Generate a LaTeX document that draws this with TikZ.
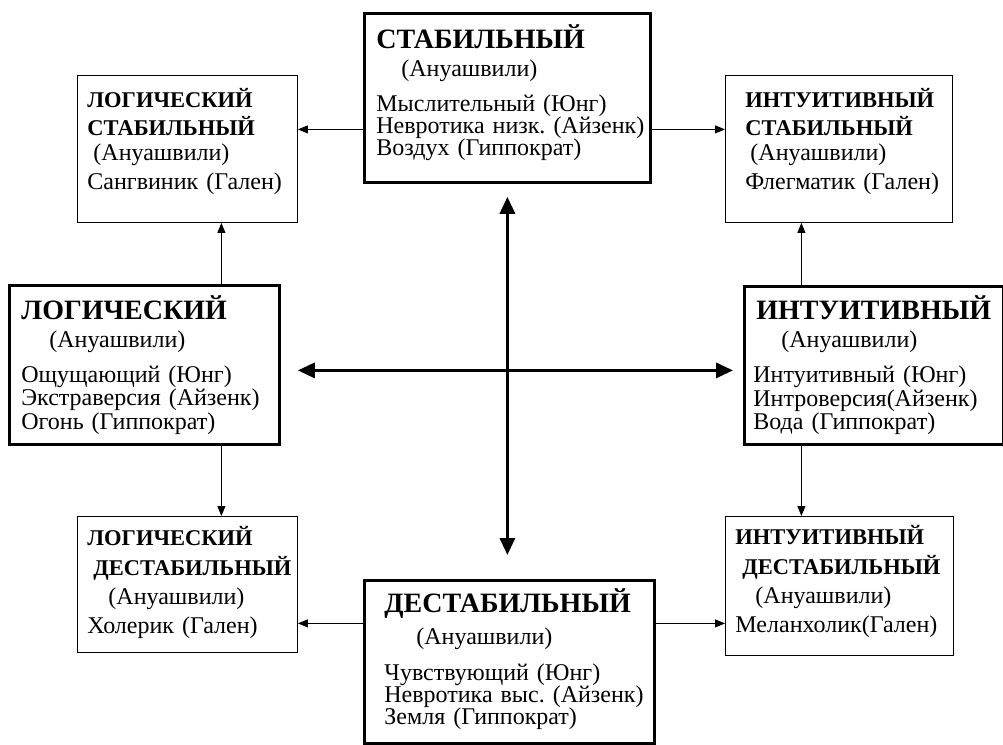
\documentclass[tikz,border=0pt]{standalone}
\usepackage{fontspec}
\setmainfont{Liberation Serif}
\usetikzlibrary{arrows.meta}
\frenchspacing
\newcommand\tline[1]{\mbox{#1}\\}
\newcommand\bigttl[1]{\mbox{\fontsize{28}{22}\bfseries #1}\\}
\newcommand\smttl[1]{\mbox{\fontsize{22.5}{22}\bfseries #1}\\}

\begin{document}
\begin{tikzpicture}[x=1pt,y=-1pt,
  every node/.style={font=\rmfamily\fontsize{24}{22}\selectfont},
  mainbox/.style={draw,line width=2.8pt,anchor=north west,inner ysep=0pt,align=left},
  sidebox/.style={draw,line width=0.9pt,anchor=north west,inner ysep=0pt,align=left},
  link/.style={draw,line width=0.9pt,-{Triangle[length=10pt,width=8pt]}},
  axis/.style={draw,line width=3.2pt,{Triangle[length=17pt,width=15pt]}-{Triangle[length=17pt,width=15pt]}}]
\useasboundingbox (0,0) rectangle (1003,744);

% main boxes
\node[mainbox,inner xsep=12pt,text width=262pt,minimum height=169pt] (stab) at (363,12)
  {\bigttl{СТАБИЛЬНЫЙ}[6pt]
   \tline{\hspace*{25pt}(Ануашвили)}[13pt]
   \tline{Мыслительный (Юнг)}
   \tline{Невротика низк. (Айзенк)}
   \mbox{Воздух (Гиппократ)}\par\kern10pt};
\node[mainbox,inner xsep=20pt,text width=250pt,minimum height=163pt] (dest) at (363,579)
  {\bigttl{ДЕСТАБИЛЬНЫЙ}[8pt]
   \tline{\hspace*{32pt}(Ануашвили)}[14pt]
   \tline{Чувствующий (Юнг)}
   \tline{Невротика выс. (Айзенк)}
   \mbox{Земля (Гиппократ)}\par\kern6pt};
\node[mainbox,inner xsep=12pt,text width=246pt,minimum height=159pt] (logic) at (8,284)
  {\bigttl{ЛОГИЧЕСКИЙ}[6pt]
   \tline{\hspace*{28pt}(Ануашвили)}[13pt]
   \tline{Ощущающий (Юнг)}[1.5pt]
   \tline{Экстраверсия (Айзенк)}[1.5pt]
   \mbox{Огонь (Гиппократ)}};
\node[mainbox,inner xsep=9pt,text width=241pt,minimum height=158pt] (intu) at (743,285)
  {\bigttl{\hspace*{3pt}ИНТУИТИВНЫЙ}[6pt]
   \tline{\hspace*{28pt}(Ануашвили)}[13pt]
   \tline{Интуитивный (Юнг)}[1.5pt]
   \tline{Интроверсия(Айзенк)}[1.5pt]
   \mbox{Вода (Гиппократ)}};

% side boxes
\node[sidebox,inner xsep=10pt,text width=200pt,minimum height=147pt] (logstab) at (77,75)
  {\smttl{ЛОГИЧЕСКИЙ}[6pt]
   \smttl{СТАБИЛЬНЫЙ}[3pt]
   \tline{\hspace*{6pt}(Ануашвили)}[7pt]
   \mbox{Сангвиник (Гален)}\par\kern15pt};
\node[sidebox,inner xsep=20pt,text width=187pt,minimum height=147pt] (intstab) at (725,75)
  {\smttl{ИНТУИТИВНЫЙ}[6pt]
   \smttl{СТАБИЛЬНЫЙ}[3pt]
   \tline{\hspace*{5pt}(Ануашвили)}[7pt]
   \mbox{Флегматик (Гален)}\par\kern15pt};
\node[sidebox,inner xsep=10pt,text width=200pt,minimum height=136pt] (logdest) at (77,516)
  {\smttl{ЛОГИЧЕСКИЙ}[8pt]
   \smttl{\hspace*{6pt}ДЕСТАБИЛЬНЫЙ}[7pt]
   \tline{\hspace*{21pt}(Ануашвили)}[7pt]
   \mbox{Холерик (Гален)}\par\kern4pt};
\node[sidebox,inner xsep=10pt,text width=208pt,minimum height=139pt] (intdest) at (725,516)
  {\smttl{ИНТУИТИВНЫЙ}[8pt]
   \smttl{\hspace*{7pt}ДЕСТАБИЛЬНЫЙ}[7pt]
   \tline{\hspace*{20pt}(Ануашвили)}[7pt]
   \mbox{Меланхолик(Гален)}\par\kern8pt};

% connectors
\draw[link] ([yshift=-31.5pt]stab.west) coordinate (sw) -- (sw -| logstab.east);
\draw[link] ([yshift=-31.5pt]stab.east) coordinate (se) -- (se -| intstab.west);
\draw[link] ([yshift=38.5pt]dest.west) coordinate (dw) -- (dw -| logdest.east);
\draw[link] ([yshift=38.5pt]dest.east) coordinate (de) -- (de -| intdest.west);
\draw[link] ([xshift=77pt]logic.north) coordinate (ln) -- (ln |- logstab.south);
\draw[link] ([xshift=77pt]logic.south) coordinate (ls) -- (ls |- logdest.north);
\draw[link] ([xshift=-72.5pt]intu.north) coordinate (in) -- (in |- intstab.south);
\draw[link] ([xshift=-72.5pt]intu.south) coordinate (is) -- (is |- intdest.north);

% axes
\coordinate (ae) at ([xshift=17pt,yshift=-5.5pt]logic.east);
\coordinate (aw) at ([xshift=-10pt]intu.west);
\coordinate (as) at ([yshift=-13pt]stab.south);
\coordinate (an) at ([yshift=24pt]dest.north);
\draw[axis] (ae) -- (ae -| aw);
\draw[axis] (as) -- (as |- an);
\end{tikzpicture}
\end{document}
